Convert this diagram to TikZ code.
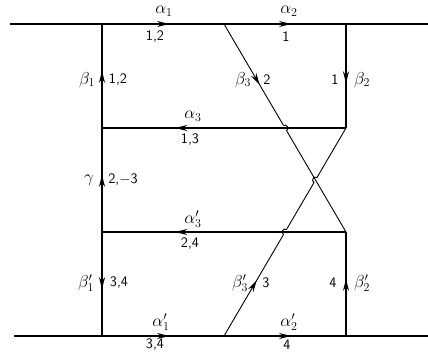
\documentclass[tikz,border=0pt]{standalone}
\usetikzlibrary{arrows.meta,decorations.markings,calc}
\begin{document}
\begin{tikzpicture}[x=1pt,y=-1pt,
  ln/.style={line width=1.1pt},
  dl/.style={line width=0.9pt},
  midarrow/.style={postaction=decorate,decoration={markings,mark=at position #1 with {\arrow{Stealth[length=12pt,width=6pt]}}}},
  lbl/.style={inner sep=0pt,font=\fontsize{17}{19}\selectfont},
  num/.style={inner sep=0pt,font=\fontsize{14.5}{16}\selectfont\sffamily},
  hop/.style={bend left=90,looseness=1.6}]
\useasboundingbox (0,0) rectangle (428,351);
% coordinates
\coordinate (TL) at (10,24);
\coordinate (TR) at (428,24);
\coordinate (BL) at (14,336);
\coordinate (BR) at (428,336);
\coordinate (A) at (102,24);
\coordinate (C) at (224,24);
\coordinate (B) at (346,24);
\coordinate (D) at (102,128);
\coordinate (E) at (346,128);
\coordinate (F) at (102,232);
\coordinate (G) at (346,232);
\coordinate (H) at (102,336);
\coordinate (J) at (224,336);
\coordinate (I) at (346,336);
\coordinate (X) at (intersection of C--G and E--J);
\coordinate (P1) at (intersection of C--G and D--E);
\coordinate (P2) at (intersection of J--E and F--G);
% top and bottom lines
\draw[ln] (TL) -- (A);
\draw[ln,midarrow=0.55] (A) -- (C);
\draw[ln,midarrow=0.55] (C) -- (B);
\draw[ln] (B) -- (TR);
\draw[ln] (BL) -- (H);
\draw[ln,midarrow=0.55] (H) -- (J);
\draw[ln,midarrow=0.55] (J) -- (I);
\draw[ln] (I) -- (BR);
% verticals
\draw[ln,midarrow=0.55] (D) -- (A);
\draw[ln,midarrow=0.55] (F) -- (D);
\draw[ln,midarrow=0.55] (F) -- (H);
\draw[ln,midarrow=0.57] (B) -- (E);
\draw[ln,midarrow=0.55] (I) -- (G);
% middle horizontals
\draw[ln,midarrow=0.7] (E) -- (D);
\draw[ln,midarrow=0.7] (G) -- (F);
% diagonals with hops
\coordinate (P1a) at ($(P1)!3pt!(C)$);
\coordinate (P1b) at ($(P1)!3pt!(G)$);
\draw[dl,midarrow=0.6] (C) -- (P1a);
\draw[dl] (P1a) to[hop] (P1b) -- (G);
\coordinate (P2a) at ($(P2)!3pt!(J)$);
\coordinate (P2b) at ($(P2)!3pt!(E)$);
\coordinate (Xa) at ($(X)!3pt!(J)$);
\coordinate (Xb) at ($(X)!3pt!(E)$);
\draw[dl,midarrow=0.55] (J) -- (P2a);
\draw[dl] (P2a) to[hop] (P2b) -- (Xa) to[hop] (Xb) -- (E);
% labels
\node[lbl] (la1) at (164,11) {$\alpha_1$};
\node[num] (na1) at (155,37) {1,2};
\node[lbl] (la2) at (289,11) {$\alpha_2$};
\node[num] (na2) at (286,37) {1};
\node[lbl] (lb1) at (87,80) {$\beta_1$};
\node[num] (nb1) at (118,80) {1,2};
\node[lbl] (lb3) at (243,80) {$\beta_3$};
\node[num] (nb3) at (267,80) {2};
\node[num] (nb2) at (335,80) {1};
\node[lbl] (lb2) at (362,80) {$\beta_2$};
\node[lbl] (la3) at (193,116) {$\alpha_3$};
\node[num] (na3) at (190,140) {1,3};
\node[lbl] (lg) at (89,180) {$\gamma$};
\node[num] (ng) at (123,180) {2,$-$3};
\node[lbl] (la3p) at (193,219) {$\alpha_3'$};
\node[num] (na3p) at (190,244) {2,4};
\node[lbl] (lb1p) at (86,283) {$\beta_1'$};
\node[num] (nb1p) at (119,283) {3,4};
\node[lbl] (lb3p) at (240,283) {$\beta_3'$};
\node[num] (nb3p) at (266,283) {3};
\node[num] (nb2p) at (333,283) {4};
\node[lbl] (lb2p) at (362,283) {$\beta_2'$};
\node[lbl] (la1p) at (161,322) {$\alpha_1'$};
\node[num] (na1p) at (155,344.5) {3,4};
\node[lbl] (la2p) at (289,322) {$\alpha_2'$};
\node[num] (na2p) at (287,344.5) {4};
\end{tikzpicture}
\end{document}
